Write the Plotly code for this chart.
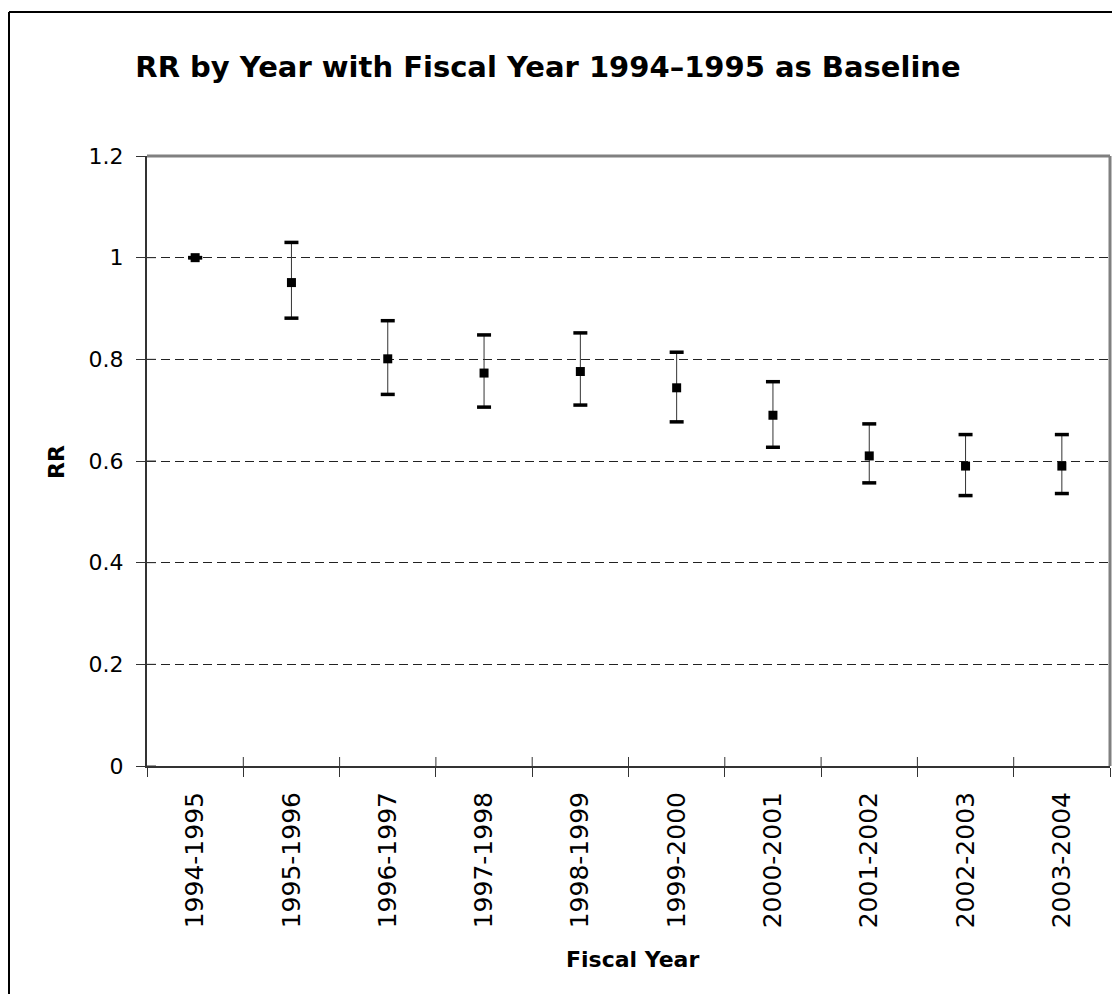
import plotly.graph_objects as go

years = ["1994-1995", "1995-1996", "1996-1997", "1997-1998", "1998-1999",
         "1999-2000", "2000-2001", "2001-2002", "2002-2003", "2003-2004"]
rr = [1.000, 0.951, 0.801, 0.773, 0.776, 0.744, 0.690, 0.610, 0.590, 0.590]
upper = [1.000, 1.030, 0.876, 0.848, 0.852, 0.814, 0.756, 0.673, 0.652, 0.652]
lower = [1.000, 0.881, 0.731, 0.706, 0.710, 0.677, 0.627, 0.557, 0.532, 0.536]
y_ticks = [0, 0.2, 0.4, 0.6, 0.8, 1.0, 1.2]
y_tick_text = ["0", "0.2", "0.4", "0.6", "0.8", "1", "1.2"]

OFF = 8  # page body margin
W, H = 1120 - 2 * OFF, 1002 - 2 * OFF
L, R, T, B = 147 - OFF, 1110 - OFF, 156 - OFF, 766 - OFF
PW, PH = R - L, B - T

err_plus = [u - v for u, v in zip(upper, rr)]
err_minus = [v - l for v, l in zip(rr, lower)]

fig = go.Figure()
fig.add_trace(go.Scatter(
    x=years, y=rr, mode="markers",
    marker=dict(symbol="square", size=9, color="black"),
    error_y=dict(type="data", symmetric=False, array=err_plus, arrayminus=err_minus,
                 color="#333333", thickness=1, width=0),
    showlegend=False, hoverinfo="skip"))
fig.add_trace(go.Scatter(
    x=years + years, y=upper + lower, mode="markers",
    marker=dict(symbol="line-ew", size=10, line=dict(width=3.5, color="black")),
    showlegend=False, hoverinfo="skip"))

shapes = [
    dict(type="line", xref="paper", yref="paper", x0=0, x1=1, y0=1, y1=1,
         line=dict(color="#808080", width=3)),
    dict(type="line", xref="paper", yref="paper", x0=1, x1=1, y0=0, y1=1,
         line=dict(color="#808080", width=3)),
    dict(type="line", xref="paper", yref="paper",
         x0=(9 - OFF - L) / PW, x1=(W + 5 - L) / PW,
         y0=(B - (12 - OFF)) / PH, y1=(B - (12 - OFF)) / PH,
         line=dict(color="black", width=2)),
    dict(type="line", xref="paper", yref="paper",
         x0=(9 - OFF - L) / PW, x1=(9 - OFF - L) / PW,
         y0=(B - (12 - OFF)) / PH, y1=(B - H - 5) / PH,
         line=dict(color="black", width=2)),
]
# inner halves of crossing ticks
for v in y_ticks[:-1]:
    shapes.append(dict(type="line", xref="paper", yref="y", x0=0, x1=9 / PW, y0=v, y1=v,
                       line=dict(color="#333333", width=1)))
for i in range(1, len(years)):
    shapes.append(dict(type="line", xref="x", yref="paper", x0=i - 0.5, x1=i - 0.5,
                       y0=0, y1=9 / PH, line=dict(color="#333333", width=1)))

fig.update_layout(
    width=W, height=H,
    margin=dict(l=L, r=W - R, t=T, b=H - B, pad=0),
    paper_bgcolor="white", plot_bgcolor="white",
    title=dict(text="<b>RR by Year with Fiscal Year 1994\u20131995 as Baseline</b>",
               x=(548 - OFF) / W, xanchor="center", y=1 - (67 - OFF) / H, yanchor="middle",
               font=dict(family="DejaVu Sans", size=29, color="black")),
    xaxis=dict(type="category", categoryorder="array", categoryarray=years,
               tickson="boundaries", ticks="outside", ticklen=9, tickcolor="#333333",
               tickangle=-90, tickfont=dict(family="DejaVu Sans", size=25, color="black"),
               showline=True, linecolor="#333333", linewidth=2, showgrid=False,
               range=[-0.5, len(years) - 0.5], ticklabelstandoff=14),
    yaxis=dict(range=[0, 1.2], tickvals=y_ticks, ticktext=y_tick_text,
               ticks="outside", ticklen=9, tickcolor="#333333",
               tickfont=dict(family="DejaVu Sans", size=22, color="black"),
               showline=True, linecolor="#333333", linewidth=2,
               showgrid=True, gridcolor="#222222", gridwidth=1, griddash="9px,5px",
               zeroline=False, ticklabelstandoff=8),
    annotations=[
        dict(text="<b>RR</b>", x=(56 - OFF - L) / PW, y=(B - (462 - OFF)) / PH,
             xref="paper", yref="paper", showarrow=False, textangle=-90,
             xanchor="center", yanchor="middle",
             font=dict(family="DejaVu Sans", size=22, color="black")),
        dict(text="<b>Fiscal Year</b>", x=(632 - OFF - L) / PW, y=(B - (959 - OFF)) / PH,
             xref="paper", yref="paper", showarrow=False,
             xanchor="center", yanchor="middle",
             font=dict(family="DejaVu Sans", size=22, color="black")),
    ],
    shapes=shapes,
)

fig.write_html("out.html")
